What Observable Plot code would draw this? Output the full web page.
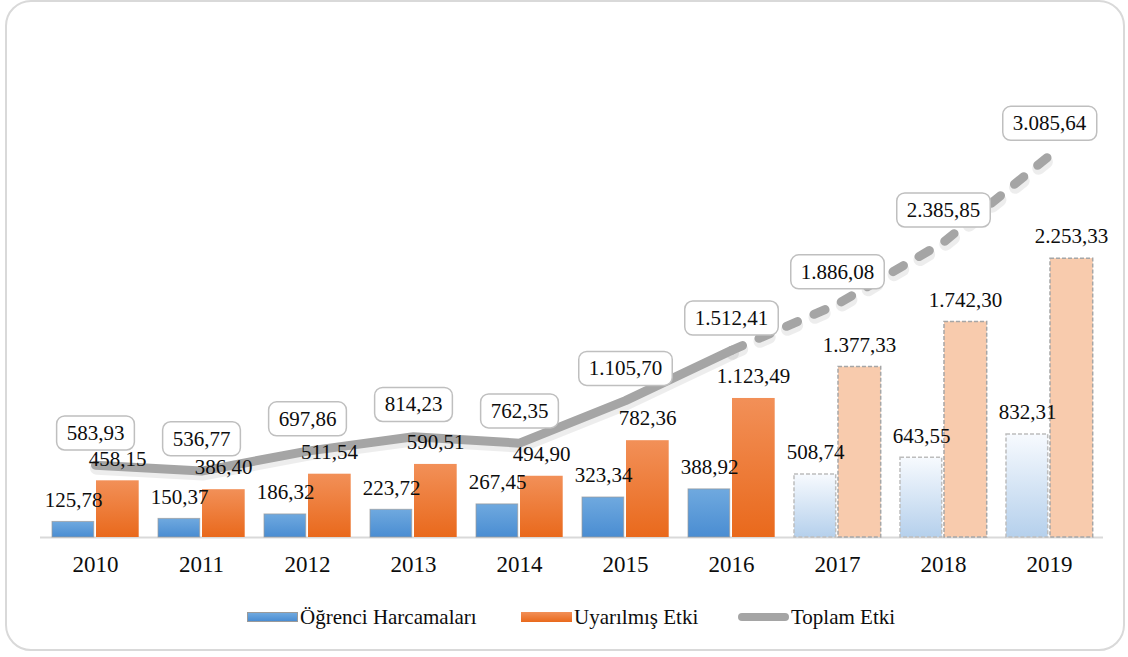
<!DOCTYPE html>
<html>
<head>
<meta charset="utf-8">
<script src="https://cdn.jsdelivr.net/npm/d3@7"></script>
<script src="https://cdn.jsdelivr.net/npm/@observablehq/plot@0.6"></script>
<style>
  html, body { margin: 0; padding: 0; background: #fff; }
  body { width: 1128px; height: 657px; overflow: hidden; position: relative;
         font-family: "Liberation Serif", "Times New Roman", serif; color: #0d0d0d; }
  #frame { position: absolute; left: 5px; top: 0px; width: 1120px; height: 651px;
           box-sizing: border-box; border: 2px solid #d9d9d9; border-radius: 26px; }
  #chart { position: absolute; left: 0; top: 0; }
  .item { position: absolute; top: 604px; height: 26px; display: flex; align-items: center;
          font-size: 21px; white-space: nowrap; font-family: "Liberation Serif", serif; }
  .sw { display: inline-block; width: 51px; height: 10px; margin-right: 2px; box-sizing: border-box; }
</style>
</head>
<body>
<div id="frame"></div>
<div id="chart"></div>
<div id="legend"></div>
<script>
// ---- data ----
const years = ["2010","2011","2012","2013","2014","2015","2016","2017","2018","2019"];
const ogrenci = [125.78,150.37,186.32,223.72,267.45,323.34,388.92,508.74,643.55,832.31];
const uyarilmis = [458.15,386.40,511.54,590.51,494.90,782.36,1123.49,1377.33,1742.30,2253.33];
const toplam = [583.93,536.77,697.86,814.23,762.35,1105.70,1512.41,1886.08,2385.85,3085.64];
const firstProjectedYear = "2017";
const seriesNames = ["Öğrenci Harcamaları","Uyarılmış Etki","Toplam Etki"];

const rows = years.map((y, i) => ({year: y, ogr: ogrenci[i], uya: uyarilmis[i], top: toplam[i], proj: y >= firstProjectedYear}));
const actual = rows.filter(d => !d.proj);
const projected = rows.filter(d => d.proj);
const dashedPart = [actual[actual.length - 1], ...projected];

const fmt = d3.formatLocale({decimal: ",", thousands: ".", grouping: [3], currency: ["", ""]}).format(",.2f");
const font = "Liberation Serif";
const ink = "#0d0d0d";
const gray = "#a5a5a5";

const plot = Plot.plot({
  width: 1128,
  height: 590,
  marginLeft: 40,
  marginRight: 25,
  marginTop: 42,
  marginBottom: 53,
  x: {domain: years, padding: 0, label: null},
  y: {domain: [0, 4000], axis: null},
  style: {fontFamily: font, background: "transparent", overflow: "visible", color: ink},
  marks: [
    Plot.ruleY([0], {stroke: "#d9d9d9", strokeWidth: 2}),
    Plot.axisX({tickSize: 0, tickPadding: 18, fontSize: 23, fill: ink, label: null, fontFamily: font}),
    // actual bars
    Plot.barY(actual, {x: "year", y: "ogr", insetLeft: 10, insetRight: 54.3,
      fill: "url(#gBlue)", stroke: "#9a9a9a", strokeOpacity: 0.7, strokeWidth: 1}),
    Plot.barY(actual, {x: "year", y: "uya", insetLeft: 54, insetRight: 9.3,
      fill: "url(#gOrange)"}),
    // projected bars
    Plot.barY(projected, {x: "year", y: "ogr", insetLeft: 10, insetRight: 54.3,
      fill: "url(#gBlueProj)", stroke: "#bdbdbd", strokeWidth: 1.5, strokeDasharray: "4,2"}),
    Plot.barY(projected, {x: "year", y: "uya", insetLeft: 54, insetRight: 9.3,
      fill: "#f8cbad", stroke: "#a6a6a6", strokeWidth: 1.5, strokeDasharray: "4,2"}),
    // total line soft shadow
    Plot.lineY(actual, {x: "year", y: "top", stroke: "#000", strokeOpacity: 0.07, strokeWidth: 13,
      strokeLinecap: "round", strokeLinejoin: "round", dx: 1, dy: 3}),
    Plot.lineY(dashedPart, {x: "year", y: "top", stroke: "#000", strokeOpacity: 0.07, strokeWidth: 13,
      strokeLinecap: "round", strokeDasharray: "10,20", dx: 1, dy: 3}),
    // total line
    Plot.lineY(actual, {x: "year", y: "top", stroke: gray, strokeWidth: 9,
      strokeLinecap: "round", strokeLinejoin: "round"}),
    Plot.lineY(dashedPart, {x: "year", y: "top", stroke: gray, strokeWidth: 9,
      strokeLinecap: "round", strokeLinejoin: "round", strokeDasharray: "12,18"}),
    // bar labels
    Plot.text(rows, {x: "year", y: "ogr", text: d => fmt(d.ogr), dx: -22, dy: -22, fontSize: 21, fill: ink, fontFamily: font}),
    Plot.text(rows, {x: "year", y: "uya", text: d => fmt(d.uya), dx: 22, dy: -22, fontSize: 21, fill: ink, fontFamily: font}),
    // total labels (boxed afterwards)
    Plot.text(rows, {x: "year", y: "top", text: d => fmt(d.top), dy: -32, fontSize: 21, fill: ink, fontFamily: font})
  ]
});

document.getElementById("chart").append(plot);

const svg = d3.select(plot);
const defs = svg.insert("defs", ":first-child");
function grad(id, stops) {
  const g = defs.append("linearGradient").attr("id", id)
    .attr("x1", 0).attr("y1", 0).attr("x2", 0).attr("y2", 1);
  stops.forEach(([o, c]) => g.append("stop").attr("offset", o).attr("stop-color", c));
}
grad("gBlue", [[0, "#6fa9df"], [1, "#4a8dd2"]]);
grad("gOrange", [[0, "#f29058"], [1, "#e9691c"]]);
grad("gBlueProj", [[0, "#f7fafe"], [1, "#b5d0ec"]]);

// draw rounded boxes behind the total labels
const totalStrings = new Set(toplam.map(fmt));
svg.selectAll("text").filter(function () { return totalStrings.has(this.textContent); }).each(function () {
  const el = this;
  const b = el.getBBox();
  const r = d3.select(el.parentNode).insert("rect", () => el)
    .attr("x", b.x - 10).attr("y", b.y + b.height / 2 - 17)
    .attr("width", b.width + 20).attr("height", 34)
    .attr("rx", 8).attr("ry", 8)
    .attr("fill", "#fff").attr("stroke", "#bfbfbf").attr("stroke-width", 1.5);
  const t = el.getAttribute("transform");
  if (t) r.attr("transform", t);
});

// ---- legend ----
const legend = d3.select("#legend");
const legendItems = [
  {name: seriesNames[0], left: 247, style: "background:linear-gradient(#6fa9df,#4a8dd2);border:1px solid #9a9a9a;"},
  {name: seriesNames[1], left: 521, style: "background:linear-gradient(#f29058,#e9691c);"},
  {name: seriesNames[2], left: 738, style: "background:#a5a5a5;border-radius:5px;height:8px;"}
];
legendItems.forEach(it => {
  const div = legend.append("div").attr("class", "item").style("left", it.left + "px");
  div.append("span").attr("class", "sw").attr("style", it.style);
  div.append("span").text(it.name);
});
</script>
</body>
</html>
